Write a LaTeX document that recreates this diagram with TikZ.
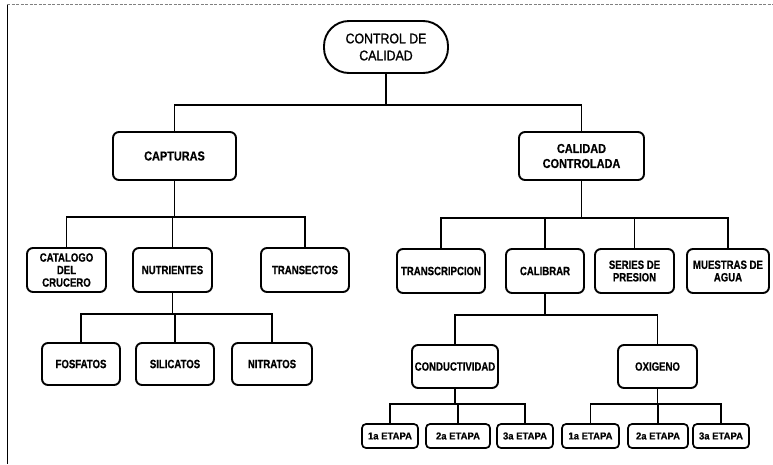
\documentclass[tikz,border=0pt]{standalone}
\usepackage{fontspec}
\setmainfont{Liberation Sans}
\newfontfamily\boxfont{Liberation Sans}[FakeStretch=0.8, FakeBold=0.6]
\newfontfamily\bigboxfont{Liberation Sans}[FakeStretch=0.84, FakeBold=0.6]
\newfontfamily\tinyfont{Liberation Sans}[FakeStretch=0.95, FakeBold=0.5]
\newfontfamily\ovalfont{Liberation Sans}[FakeStretch=0.88, FakeBold=1.2]
\begin{document}
\begin{tikzpicture}[x=1pt,y=-1pt,
  box/.style={draw, line width=1.9pt, rounded corners=6pt, align=center,
    inner sep=0pt, font=\boxfont\bfseries\fontsize{12}{12.5}\selectfont},
  bigbox/.style={box, font=\bigboxfont\bfseries\fontsize{13}{15}\selectfont},
  tinybox/.style={box, line width=1.7pt, rounded corners=4pt,
    font=\tinyfont\bfseries\fontsize{10}{11}\selectfont},
  link/.style={line width=1.4pt}]
\useasboundingbox (0,0) rectangle (773,464);

% page edges
\draw[line width=0.9pt] (7,4) -- (7,464);
\draw[gray, line width=0.5pt, dash pattern=on 3pt off 1.5pt] (7,4) -- (773,4);

% root
\node[draw, line width=1.9pt, rounded corners=25pt, minimum width=124pt,
  minimum height=52pt, align=center, inner sep=0pt,
  font=\ovalfont\fontsize{14}{17}\selectfont] (root) at (386,47) {CONTROL DE\\CALIDAD};

% first level
\node[bigbox, minimum width=123pt, minimum height=48pt] (capt) at (174.5,156) {CAPTURAS};
\node[bigbox, minimum width=125pt, minimum height=48pt] (calc) at (581.5,156) {CALIDAD\\CONTROLADA};

% under CAPTURAS
\node[box, minimum width=79pt, minimum height=44pt] (cat) at (66.5,270) {CATALOGO\\DEL\\CRUCERO};
\node[box, minimum width=79pt, minimum height=44pt] (nut) at (172.5,270) {NUTRIENTES};
\node[box, minimum width=88pt, minimum height=44pt] (tra) at (305,270) {TRANSECTOS};

% under NUTRIENTES
\node[box, minimum width=78pt, minimum height=42pt] (fos) at (81,364) {FOSFATOS};
\node[box, minimum width=78pt, minimum height=42pt] (sil) at (175,364) {SILICATOS};
\node[box, minimum width=80pt, minimum height=42pt] (nit) at (272,364) {NITRATOS};

% under CALIDAD CONTROLADA
\node[box, minimum width=88pt, minimum height=44pt] (trn) at (441,271) {TRANSCRIPCION};
\node[box, minimum width=78pt, minimum height=44pt] (cal) at (545,271) {CALIBRAR};
\node[box, minimum width=79pt, minimum height=44pt] (ser) at (634.5,271) {SERIES DE\\PRESION};
\node[box, minimum width=82pt, minimum height=44pt] (mue) at (728,271) {MUESTRAS DE\\AGUA};

% under CALIBRAR
\node[box, minimum width=86pt, minimum height=43pt] (con) at (455,366.5) {CONDUCTIVIDAD};
\node[box, minimum width=79pt, minimum height=43pt] (oxi) at (657.5,366.5) {OXIGENO};

% stages
\node[tinybox, minimum width=56pt, minimum height=24pt] (c1) at (390,436) {1a ETAPA};
\node[tinybox, minimum width=64pt, minimum height=24pt] (c2) at (458,436) {2a ETAPA};
\node[tinybox, minimum width=56pt, minimum height=24pt] (c3) at (525,436) {3a ETAPA};
\node[tinybox, minimum width=57pt, minimum height=24pt] (o1) at (590.5,436) {1a ETAPA};
\node[tinybox, minimum width=60pt, minimum height=24pt] (o2) at (658,436) {2a ETAPA};
\node[tinybox, minimum width=56pt, minimum height=24pt] (o3) at (721,436) {3a ETAPA};

% bus levels
\coordinate (b0) at (root.south |- 0,105);
\coordinate (b1) at (capt.south |- 0,217);
\coordinate (b2) at (calc.south |- 0,218);
\coordinate (b3) at (nut.south |- 0,314);
\coordinate (b4) at (cal.south |- 0,315);
\coordinate (b5) at (con.south |- 0,404);
\coordinate (b6) at (oxi.south |- 0,404);

% connectors
\draw[link] (root.south) -- (b0);
\draw[link] (capt.north) |- (b0) -| (calc.north);

\draw[link] (capt.south) -- (b1);
\draw[link] (cat.north) |- (b1) -| (tra.north);
\draw[link] (nut.north) -- (nut.north |- b1);

\draw[link] (calc.south) -- (b2);
\draw[link] (trn.north) |- (b2) -| (mue.north);
\draw[link] (cal.north) -- (cal.north |- b2);
\draw[link] (ser.north) -- (ser.north |- b2);

\draw[link] (nut.south) -- (b3);
\draw[link] (fos.north) |- (b3) -| (nit.north);
\draw[link] (sil.north) -- (sil.north |- b3);

\draw[link] (cal.south) -- (b4);
\draw[link] (con.north) |- (b4) -| (oxi.north);

\draw[link] (con.south) -- (b5);
\draw[link] (c1.north) |- (b5) -| (c3.north);
\draw[link] (c2.north) -- (c2.north |- b5);

\draw[link] (oxi.south) -- (b6);
\draw[link] (o1.north) |- (b6) -| (o3.north);
\draw[link] (o2.north) -- (o2.north |- b6);
\end{tikzpicture}
\end{document}
